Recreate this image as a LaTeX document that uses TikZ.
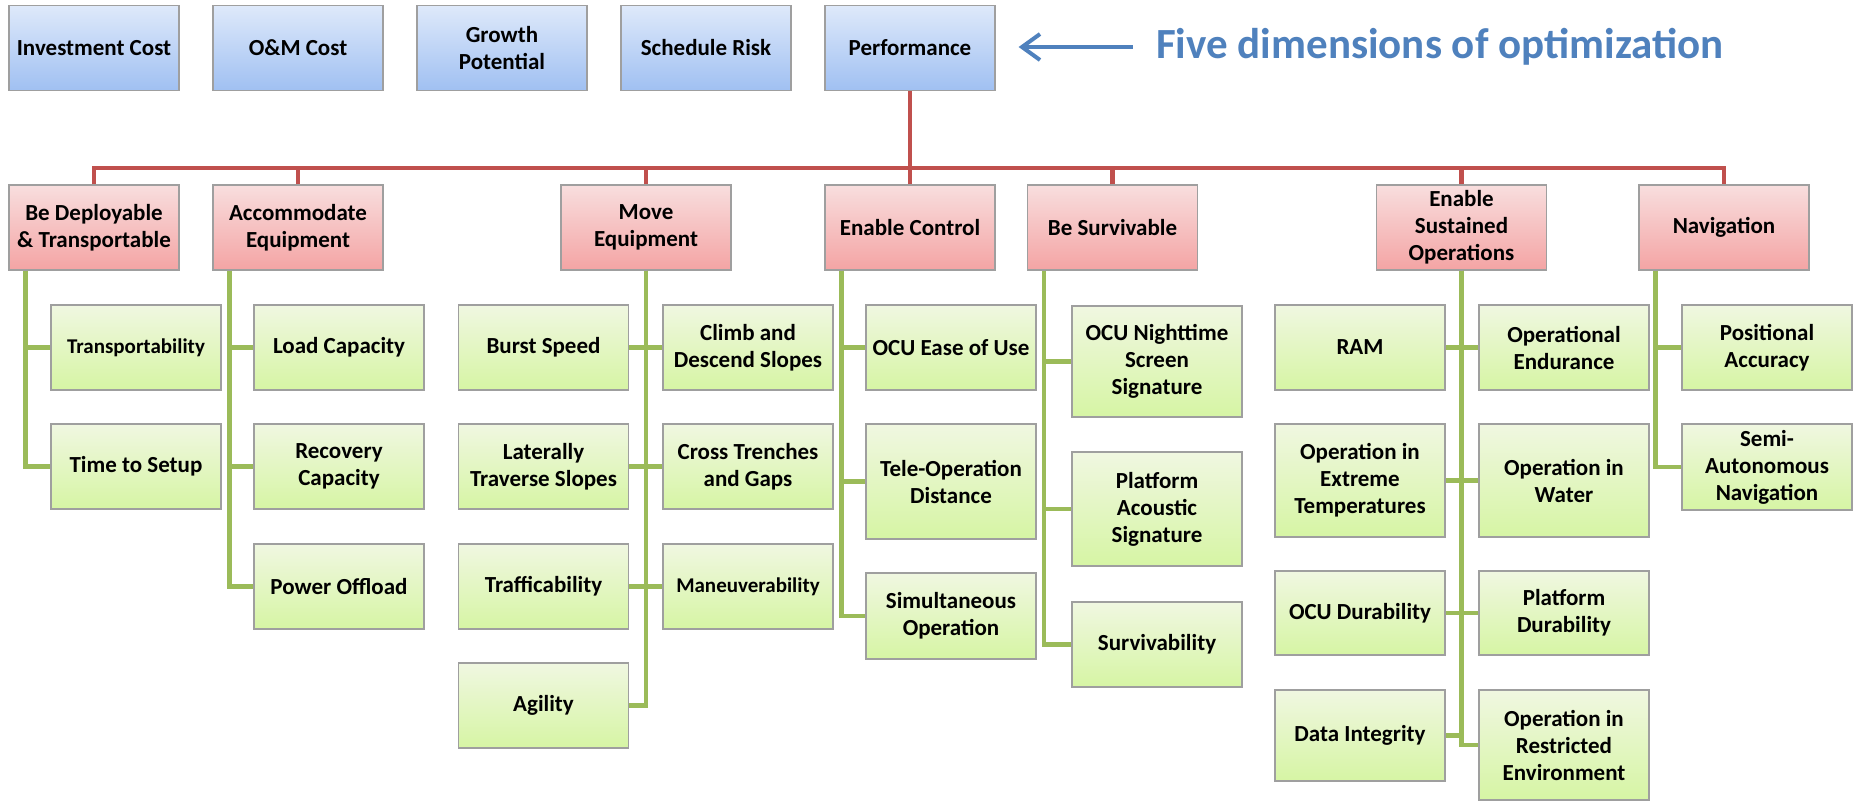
\documentclass[tikz,border=0pt]{standalone}
\usepackage{fontspec}
\setmainfont{Carlito}
\usetikzlibrary{arrows.meta}
\definecolor{dimtop}{RGB}{222,233,250}
\definecolor{dimbot}{RGB}{160,192,242}
\definecolor{functop}{RGB}{248,222,222}
\definecolor{funcbot}{RGB}{244,164,164}
\definecolor{attrtop}{RGB}{240,247,225}
\definecolor{attrbot}{RGB}{214,245,164}
\definecolor{treered}{RGB}{192,80,77}
\definecolor{treegreen}{RGB}{155,187,89}
\definecolor{titleblue}{RGB}{79,129,189}
\tikzset{
  box/.style={draw=gray!75, line width=0.6pt, minimum width=85pt, minimum height=42.5pt,
    inner sep=1pt, align=center, font=\bfseries\fontsize{11.5}{13.5}\selectfont},
  dimbox/.style={box, top color=dimtop, bottom color=dimbot},
  funcbox/.style={box, top color=functop, bottom color=funcbot},
  attrbox/.style={box, top color=attrtop, bottom color=attrbot},
  smalltext/.style={font=\bfseries\fontsize{10.5}{12.5}\selectfont},
  redline/.style={draw=treered, line width=2.3pt},
  greenline/.style={draw=treegreen, line width=2.3pt},
  arrowline/.style={draw=titleblue, line width=2pt, -{Straight Barb[length=9pt,width=13pt]}}
}
\begin{document}
\begin{tikzpicture}[x=0.5pt,y=-0.5pt]
\useasboundingbox (0,0) rectangle (1858,810);

% five dimensions
\node[dimbox] (inv) at (94,48) {Investment Cost};
\node[dimbox] (om) at (298,48) {O\&M Cost};
\node[dimbox] (growth) at (502,48) {Growth\\Potential};
\node[dimbox] (sched) at (706,48) {Schedule Risk};
\node[dimbox] (perf) at (910,48) {Performance};
\node[inner sep=0pt, text=titleblue, font=\bfseries\fontsize{21.5}{26}\selectfont] (title) at (1440,47) {Five dimensions of optimization};
\draw[arrowline] ([xshift=-11.5pt]title.west) -- ([xshift=11.5pt]perf.east |- title.west);

% functions
\node[funcbox] (deploy) at (94,227.5) {Be Deployable\\\& Transportable};
\node[funcbox] (accom) at (298,227.5) {Accommodate\\Equipment};
\node[funcbox] (move) at (646,227.5) {Move\\Equipment};
\node[funcbox] (ctrl) at (910,227.5) {Enable Control};
\node[funcbox] (surv) at (1112.5,227.5) {Be Survivable};
\node[funcbox] (sust) at (1461.5,227.5) {Enable\\Sustained\\Operations};
\node[funcbox] (nav) at (1724,227.5) {Navigation};

\coordinate (bus) at (0,168);
\draw[redline] (perf.south) -- (perf.south |- bus);
\draw[redline] (deploy.north) -- (deploy.north |- bus) -- (nav.north |- bus) -- (nav.north);
\draw[redline] (accom.north) -- (accom.north |- bus);
\draw[redline] (move.north) -- (move.north |- bus);
\draw[redline] (ctrl.north) -- (ctrl.north |- bus);
\draw[redline] (surv.north) -- (surv.north |- bus);
\draw[redline] (sust.north) -- (sust.north |- bus);

% attributes
\node[attrbox, smalltext] (transp) at (136,347.5) {Transportability};
\node[attrbox] (setup) at (136,466.5) {Time to Setup};

\node[attrbox] (load) at (339,347.5) {Load Capacity};
\node[attrbox] (recov) at (339,466.5) {Recovery\\Capacity};
\node[attrbox] (power) at (339,586.5) {Power Offload};

\node[attrbox] (burst) at (543.5,347.5) {Burst Speed};
\node[attrbox] (lateral) at (543.5,466.5) {Laterally\\Traverse Slopes};
\node[attrbox] (traffic) at (543.5,586.5) {Trafficability};
\node[attrbox] (agility) at (543.5,705.5) {Agility};
\node[attrbox] (climb) at (748,347.5) {Climb and\\Descend Slopes};
\node[attrbox] (trench) at (748,466.5) {Cross Trenches\\and Gaps};
\node[attrbox, smalltext] (maneuv) at (748,586.5) {Maneuverability};

\node[attrbox] (ease) at (951,347.5) {OCU Ease of Use};
\node[attrbox, minimum height=57.5pt] (tele) at (951,481.5) {Tele-Operation\\Distance};
\node[attrbox, minimum height=43pt] (simul) at (951,616) {Simultaneous\\Operation};

\node[attrbox, minimum height=55.5pt] (night) at (1157,361.5) {OCU Nighttime\\Screen\\Signature};
\node[attrbox, minimum height=57pt] (acoustic) at (1157,509) {Platform\\Acoustic\\Signature};
\node[attrbox] (survb) at (1157,644.5) {Survivability};

\node[attrbox] (ram) at (1360,347.5) {RAM};
\node[attrbox, minimum height=56.5pt] (extreme) at (1360,480.5) {Operation in\\Extreme\\Temperatures};
\node[attrbox, minimum height=42pt] (ocudur) at (1360,613) {OCU Durability};
\node[attrbox, minimum height=45.5pt] (data) at (1360,735.5) {Data Integrity};
\node[attrbox] (endur) at (1564,347.5) {Operational\\Endurance};
\node[attrbox, minimum height=56.5pt] (water) at (1564,480.5) {Operation in\\Water};
\node[attrbox, minimum height=42pt] (platdur) at (1564,613) {Platform\\Durability};
\node[attrbox, minimum height=55pt] (restr) at (1564,745) {Operation in\\Restricted\\Environment};

\node[attrbox] (posacc) at (1767,347.5) {Positional\\Accuracy};
\node[attrbox, minimum height=43pt] (semi) at (1767,467) {Semi-\\Autonomous\\Navigation};

\draw[greenline] ([xshift=8.5pt]deploy.south west) |- (transp.west);
\draw[greenline] ([xshift=8.5pt]deploy.south west) |- (setup.west);
\draw[greenline] ([xshift=8.5pt]accom.south west) |- (load.west);
\draw[greenline] ([xshift=8.5pt]accom.south west) |- (recov.west);
\draw[greenline] ([xshift=8.5pt]accom.south west) |- (power.west);
\draw[greenline] (move.south) |- (burst.east);
\draw[greenline] (move.south) |- (lateral.east);
\draw[greenline] (move.south) |- (traffic.east);
\draw[greenline] (move.south) |- (agility.east);
\draw[greenline] (move.south) |- (climb.west);
\draw[greenline] (move.south) |- (trench.west);
\draw[greenline] (move.south) |- (maneuv.west);
\draw[greenline] ([xshift=8.5pt]ctrl.south west) |- (ease.west);
\draw[greenline] ([xshift=8.5pt]ctrl.south west) |- (tele.west);
\draw[greenline] ([xshift=8.5pt]ctrl.south west) |- (simul.west);
\draw[greenline] ([xshift=8.5pt]surv.south west) |- (night.west);
\draw[greenline] ([xshift=8.5pt]surv.south west) |- (acoustic.west);
\draw[greenline] ([xshift=8.5pt]surv.south west) |- (survb.west);
\draw[greenline] (sust.south) |- (ram.east);
\draw[greenline] (sust.south) |- (extreme.east);
\draw[greenline] (sust.south) |- (ocudur.east);
\draw[greenline] (sust.south) |- (data.east);
\draw[greenline] (sust.south) |- (endur.west);
\draw[greenline] (sust.south) |- (water.west);
\draw[greenline] (sust.south) |- (platdur.west);
\draw[greenline] (sust.south) |- (restr.west);
\draw[greenline] ([xshift=8.5pt]nav.south west) |- (posacc.west);
\draw[greenline] ([xshift=8.5pt]nav.south west) |- (semi.west);
\end{tikzpicture}
\end{document}
